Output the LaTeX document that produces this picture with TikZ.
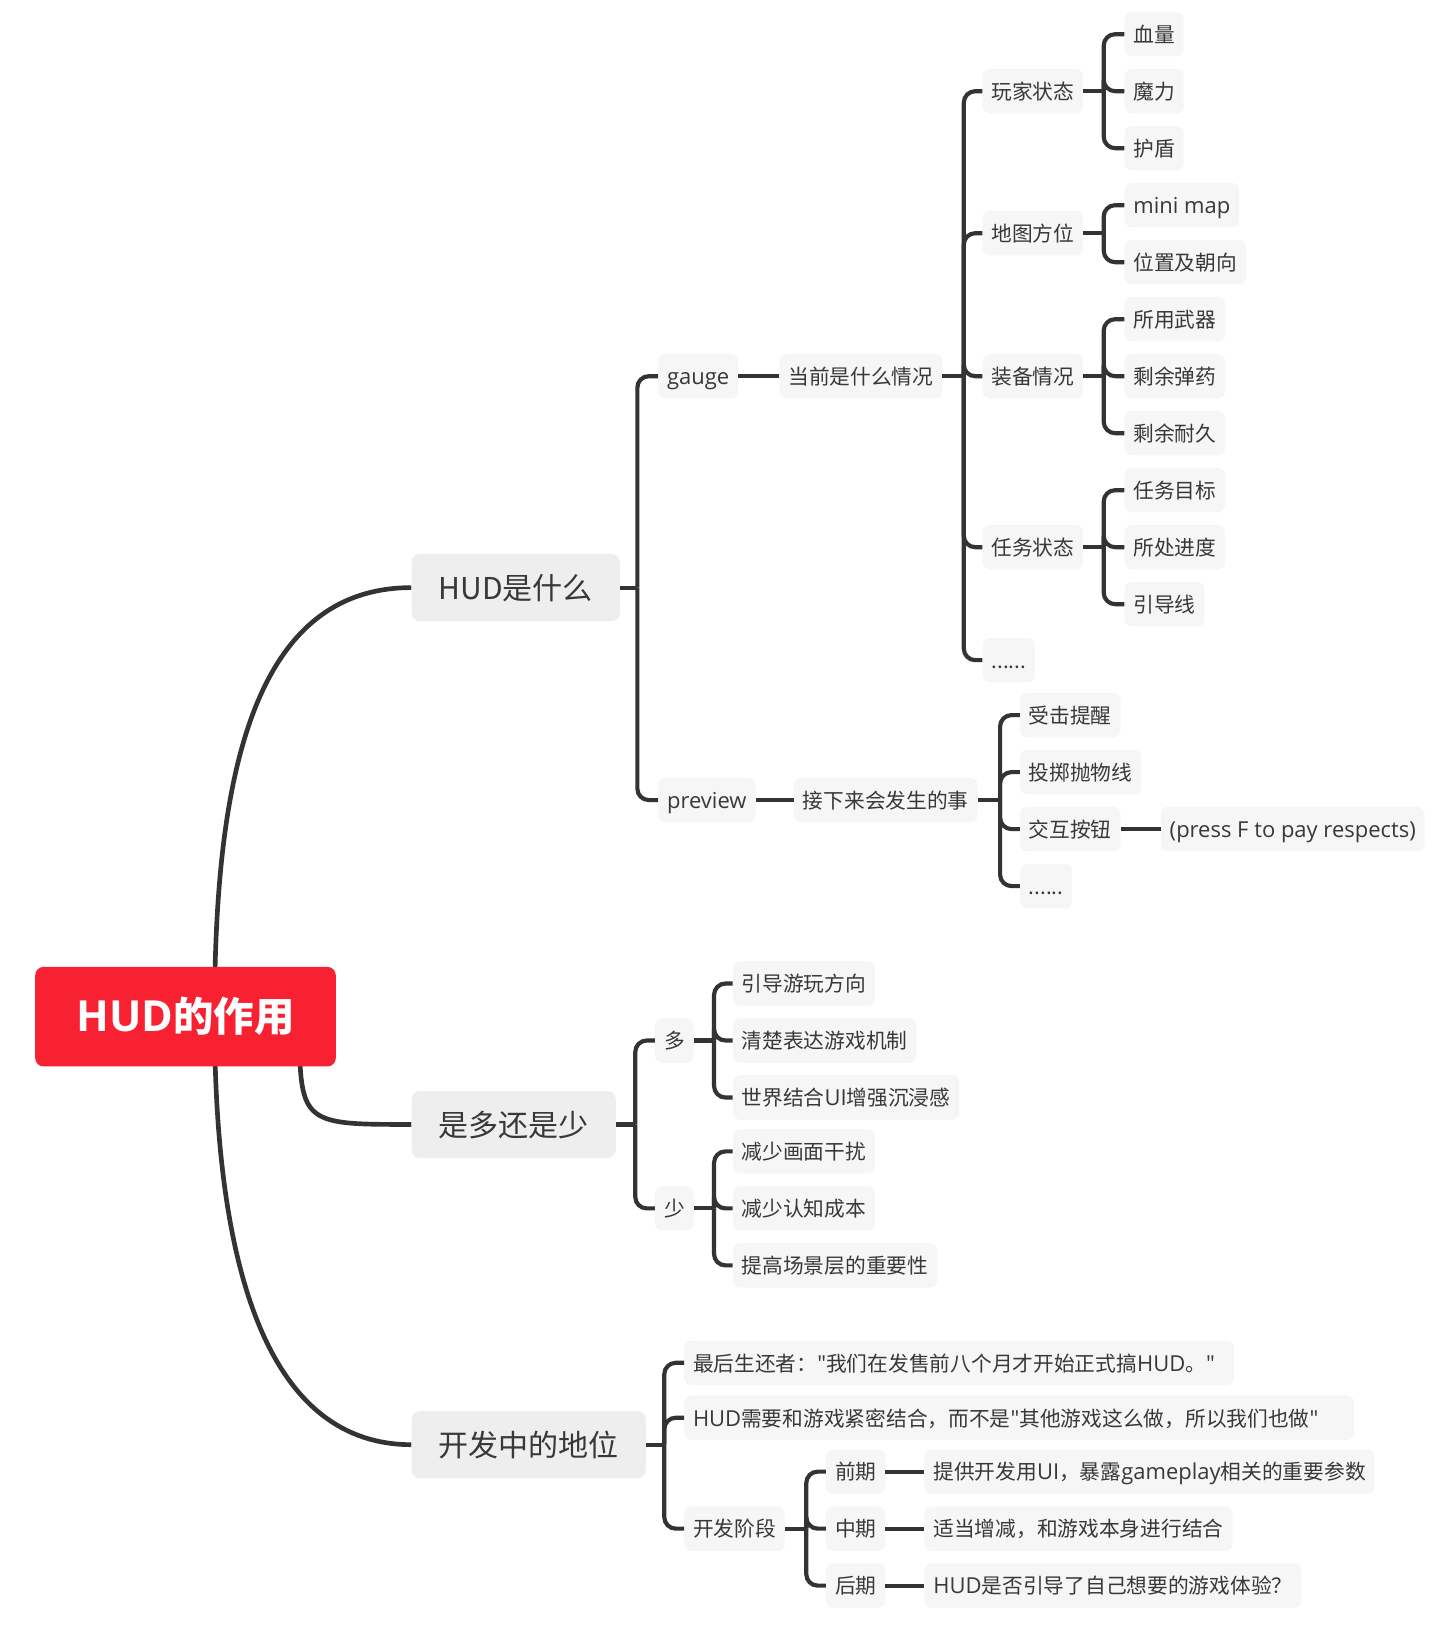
\documentclass[tikz,border=0pt]{standalone}
\usepackage{fontspec}
\newfontfamily\cjk{Noto Sans CJK SC}
\newfontfamily\lat[Scale=1.06]{Open Sans}
\newcommand\latn[1]{{\lat #1}}
\usetikzlibrary{calc,backgrounds}
\definecolor{leaffill}{HTML}{F6F6F6}
\definecolor{topfill}{HTML}{EEEEEE}
\definecolor{rootred}{HTML}{F72131}
\definecolor{lc}{HTML}{333333}
\definecolor{txt}{HTML}{383838}
\tikzset{
  x=1pt,y=1pt,
  leaf/.style={fill=leaffill, rounded corners=7pt, text=txt,
    font=\fontsize{20pt}{24pt}\selectfont\cjk, inner xsep=8.5pt, inner ysep=0pt,
    minimum height=43pt, text height=18pt, text depth=2pt, anchor=west},
  topic/.style={fill=topfill, rounded corners=8pt, text=txt,
    font=\fontsize{29pt}{34pt}\selectfont\cjk, inner xsep=26pt, inner ysep=0pt,
    minimum height=65pt, text height=27pt, text depth=4pt, anchor=west},
  rootbox/.style={fill=rootred, rounded corners=8pt, text=white,
    font=\fontsize{39pt}{46pt}\selectfont\cjk\bfseries, minimum width=290pt,
    minimum height=96pt, inner sep=0pt},
  conn/.style={line width=4pt, draw=lc},
  elbow/.style={conn, rounded corners=11pt},
  curvecon/.style={line width=4.5pt, draw=lc},
}
\begin{document}
\begin{tikzpicture}
\useasboundingbox (0,0) rectangle (1400,-1568);
% root and topics
\node[rootbox] (root) at (179,-981) {\latn{HUD}的作用};
\node[topic] (t1) at (397,-567) {HUD是什么};
\node[topic] (t2) at (397,-1085) {是多还是少};
\node[topic] (t3) at (397,-1394) {开发中的地位};
% HUD是什么
\node[leaf] (gauge) at (635,-363) {\latn{gauge}};
\node[leaf] (preview) at (635,-772) {\latn{preview}};
\node[leaf] (cur) at (752,-363) {当前是什么情况};
\node[leaf] (next) at (766,-772) {接下来会发生的事};
\node[leaf] (p1) at (948,-88) {玩家状态};
\node[leaf] (p2) at (948,-225) {地图方位};
\node[leaf] (p3) at (948,-363) {装备情况};
\node[leaf] (p4) at (948,-528) {任务状态};
\node[leaf] (p5) at (948,-637) {......};
\node[leaf] (a1) at (1085,-33) {血量};
\node[leaf] (a2) at (1085,-88) {魔力};
\node[leaf] (a3) at (1085,-143) {护盾};
\node[leaf] (b1) at (1085,-198) {\latn{mini map}};
\node[leaf] (b2) at (1085,-253) {位置及朝向};
\node[leaf] (c1) at (1085,-308) {所用武器};
\node[leaf] (c2) at (1085,-363) {剩余弹药};
\node[leaf] (c3) at (1085,-418) {剩余耐久};
\node[leaf] (d1) at (1085,-473) {任务目标};
\node[leaf] (d2) at (1085,-528) {所处进度};
\node[leaf] (d3) at (1085,-583) {引导线};
\node[leaf] (n1) at (984,-690) {受击提醒};
\node[leaf] (n2) at (984,-745) {投掷抛物线};
\node[leaf] (n3) at (984,-800) {交互按钮};
\node[leaf] (n4) at (984,-855) {......};
\node[leaf] (press) at (1120,-800) {\latn{(press F to pay respects)}};
% 是多还是少
\node[leaf] (more) at (632,-1004) {多};
\node[leaf] (less) at (632,-1166) {少};
\node[leaf] (m1) at (707,-949) {引导游玩方向};
\node[leaf] (m2) at (707,-1004) {清楚表达游戏机制};
\node[leaf] (m3) at (707,-1059) {世界结合\latn{UI}增强沉浸感};
\node[leaf] (l1) at (707,-1111) {减少画面干扰};
\node[leaf] (l2) at (707,-1166) {减少认知成本};
\node[leaf] (l3) at (707,-1221) {提高场景层的重要性};
% 开发中的地位
\node[leaf] (q1) at (660,-1315) {最后生还者：\latn{"}我们在发售前八个月才开始正式搞\latn{HUD}。\latn{"}\kern10pt};
\node[leaf] (q2) at (660,-1368) {\latn{HUD}需要和游戏紧密结合，而不是\latn{"}其他游戏这么做，所以我们也做\latn{"}\kern26pt};
\node[leaf] (stage) at (660,-1475) {开发阶段};
\node[leaf] (s1) at (797,-1420) {前期};
\node[leaf] (s2) at (797,-1475) {中期};
\node[leaf] (s3) at (797,-1530) {后期};
\node[leaf] (e1) at (892,-1420) {提供开发用\latn{UI}，暴露\latn{gameplay}相关的重要参数};
\node[leaf] (e2) at (892,-1475) {适当增减，和游戏本身进行结合};
\node[leaf] (e3) at (892,-1530) {\latn{HUD}是否引导了自己想要的游戏体验？};
% junctions
\coordinate (jt1) at (615,-567);
\coordinate (jcur) at (930,-363);
\coordinate (jp1) at (1065,-88);
\coordinate (jp2) at (1065,-225);
\coordinate (jp3) at (1065,-363);
\coordinate (jp4) at (1065,-528);
\coordinate (jnext) at (965,-772);
\coordinate (jt2) at (613,-1085);
\coordinate (jmore) at (689,-1004);
\coordinate (jless) at (689,-1166);
\coordinate (jt3) at (641,-1394);
\coordinate (jstage) at (778,-1475);
% root curves
\begin{scope}[on background layer]
\draw[curvecon] ($(root.center)+(28,0)$) .. controls (207,-760) and (240,-567) .. (t1.west);
\draw[curvecon] ($(root.center)+(110,0)$) .. controls (289,-1085) .. (t2.west);
\draw[curvecon] ($(root.center)+(28,0)$) .. controls (207,-1240) and (265,-1394) .. (t3.west);
\end{scope}
% stubs
\draw[conn] (t1.east) -- (jt1);
\draw[conn] (cur.east) -- (jcur);
\draw[conn] (p1.east) -- (jp1);
\draw[conn] (p2.east) -- (jp2);
\draw[conn] (p3.east) -- (jp3);
\draw[conn] (p4.east) -- (jp4);
\draw[conn] (next.east) -- (jnext);
\draw[conn] (t2.east) -- (jt2);
\draw[conn] (more.east) -- (jmore);
\draw[conn] (less.east) -- (jless);
\draw[conn] (t3.east) -- (jt3);
\draw[conn] (stage.east) -- (jstage);
% straight links
\draw[conn] (gauge.east) -- (cur.west);
\draw[conn] (preview.east) -- (next.west);
\draw[conn] (n3.east) -- (press.west);
\draw[conn] (s1.east) -- (e1.west);
\draw[conn] (s2.east) -- (e2.west);
\draw[conn] (s3.east) -- (e3.west);
% elbows
\foreach \c in {gauge,preview} \draw[elbow] (jt1) |- (\c.west);
\foreach \c in {p1,p2,p3,p4,p5} \draw[elbow] (jcur) |- (\c.west);
\foreach \c in {a1,a2,a3} \draw[elbow] (jp1) |- (\c.west);
\foreach \c in {b1,b2} \draw[elbow] (jp2) |- (\c.west);
\foreach \c in {c1,c2,c3} \draw[elbow] (jp3) |- (\c.west);
\foreach \c in {d1,d2,d3} \draw[elbow] (jp4) |- (\c.west);
\foreach \c in {n1,n2,n3,n4} \draw[elbow] (jnext) |- (\c.west);
\foreach \c in {more,less} \draw[elbow] (jt2) |- (\c.west);
\foreach \c in {m1,m2,m3} \draw[elbow] (jmore) |- (\c.west);
\foreach \c in {l1,l2,l3} \draw[elbow] (jless) |- (\c.west);
\foreach \c in {q1,q2,stage} \draw[elbow] (jt3) |- (\c.west);
\foreach \c in {s1,s2,s3} \draw[elbow] (jstage) |- (\c.west);
\end{tikzpicture}
\end{document}
